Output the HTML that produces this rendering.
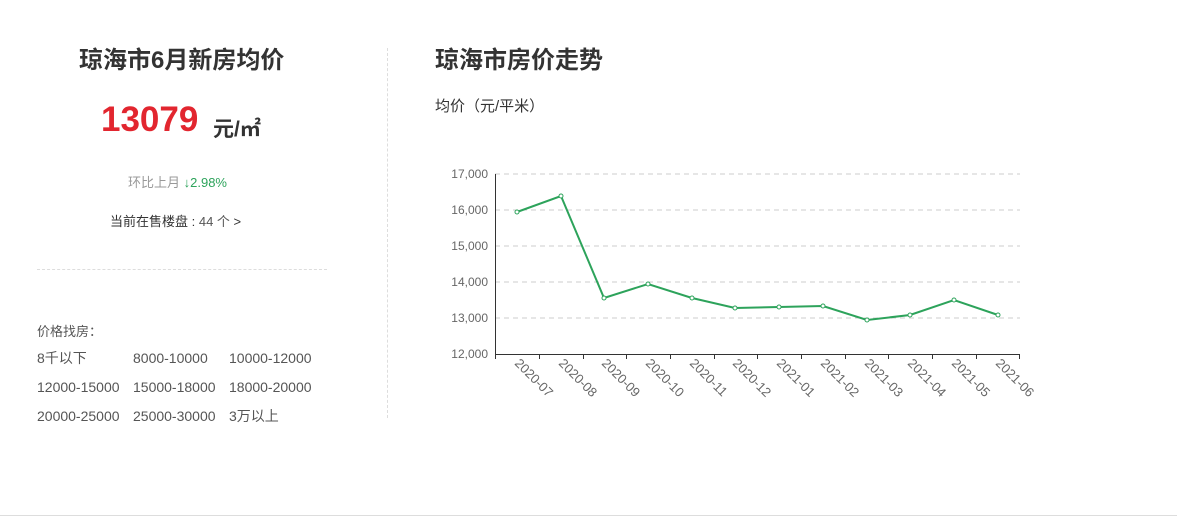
<!DOCTYPE html>
<html><head><meta charset="utf-8"><style>
body{margin:0;width:1177px;height:517px;background:#fff;position:relative;overflow:hidden;font-family:"Liberation Sans","Noto Sans CJK SC",sans-serif;color:#333}
.a{position:absolute;white-space:nowrap}
</style></head><body>
<div class="a" style="left:79px;top:40px;font-size:24px;font-weight:bold;color:#333">琼海市6月新房均价</div>
<div class="a" style="left:101px;top:100px;font-size:35px;font-weight:bold;color:#e2262f">13079</div>
<div class="a" style="left:213px;top:113px;font-size:21px;font-weight:bold;color:#333">元/㎡</div>
<div class="a" style="left:128px;top:172px;font-size:13px;color:#999">环比上月 <span style="color:#2da35b">↓2.98%</span></div>
<div class="a" style="left:110px;top:211px;font-size:13px;color:#333">当前在售楼盘 : <span style="color:#555">44 个</span> &gt;</div>
<div class="a" style="left:37px;top:269px;width:290px;border-top:1px dashed #ddd"></div>
<div class="a" style="left:387px;top:48px;height:370px;border-left:1px dashed #ddd"></div>
<div class="a" style="left:37px;top:321px;font-size:13px;color:#555">价格找房：</div>
<div class="a" style="left:37px;top:344px;font-size:14px;color:#555;line-height:29px">
<div><span style="display:inline-block;width:96px">8千以下</span><span style="display:inline-block;width:96px">8000-10000</span>10000-12000</div>
<div><span style="display:inline-block;width:96px">12000-15000</span><span style="display:inline-block;width:96px">15000-18000</span>18000-20000</div>
<div><span style="display:inline-block;width:96px">20000-25000</span><span style="display:inline-block;width:96px">25000-30000</span>3万以上</div>
</div>
<div class="a" style="left:435px;top:40px;font-size:24px;font-weight:bold;color:#333">琼海市房价走势</div>
<div class="a" style="left:435px;top:95px;font-size:15px;color:#333">均价（元/平米）</div>
<div class="a" style="left:0;top:515px;width:1177px;border-top:1px solid #ddd"></div>
<svg class="a" style="left:0;top:0" width="1177" height="517" font-family="Liberation Sans, sans-serif" font-size="12" fill="#666">
<g stroke="#ccc" stroke-dasharray="5,4">
<line x1="495" x2="1020" y1="174" y2="174"/><line x1="495" x2="1020" y1="210" y2="210"/><line x1="495" x2="1020" y1="246" y2="246"/><line x1="495" x2="1020" y1="282" y2="282"/><line x1="495" x2="1020" y1="318" y2="318"/>
</g>
<g stroke="#333"><line x1="495.5" y1="174" x2="495.5" y2="354"/><line x1="495" y1="354.5" x2="1020" y2="354.5"/>
<path d="M495.5 354v5M539.5 354v5M583.5 354v5M626.5 354v5M670.5 354v5M714.5 354v5M757.5 354v5M801.5 354v5M845.5 354v5M888.5 354v5M932.5 354v5M976.5 354v5M1019.5 354v5"/></g>
<g text-anchor="end"><text x="488" y="178">17,000</text><text x="488" y="214">16,000</text><text x="488" y="250">15,000</text><text x="488" y="286">14,000</text><text x="488" y="322">13,000</text><text x="488" y="358">12,000</text></g>
<polyline fill="none" stroke="#2da35b" stroke-width="2" points="517,212 561,196 604,298 648,284 692,298 735,308 779,307 823,306 867,320 910,315 954,300 998,315"/>
<g fill="#fff" stroke="#2da35b" stroke-width="1"><circle cx="517" cy="212" r="2"/><circle cx="561" cy="196" r="2"/><circle cx="604" cy="298" r="2"/><circle cx="648" cy="284" r="2"/><circle cx="692" cy="298" r="2"/><circle cx="735" cy="308" r="2"/><circle cx="779" cy="307" r="2"/><circle cx="823" cy="306" r="2"/><circle cx="867" cy="320" r="2"/><circle cx="910" cy="315" r="2"/><circle cx="954" cy="300" r="2"/><circle cx="998" cy="315" r="2"/></g>
<g font-size="13">
<text transform="translate(514,364) rotate(45)">2020-07</text>
<text transform="translate(558,364) rotate(45)">2020-08</text>
<text transform="translate(601,364) rotate(45)">2020-09</text>
<text transform="translate(645,364) rotate(45)">2020-10</text>
<text transform="translate(689,364) rotate(45)">2020-11</text>
<text transform="translate(732,364) rotate(45)">2020-12</text>
<text transform="translate(776,364) rotate(45)">2021-01</text>
<text transform="translate(820,364) rotate(45)">2021-02</text>
<text transform="translate(864,364) rotate(45)">2021-03</text>
<text transform="translate(907,364) rotate(45)">2021-04</text>
<text transform="translate(951,364) rotate(45)">2021-05</text>
<text transform="translate(995,364) rotate(45)">2021-06</text>
</g>
</svg>
</body></html>
